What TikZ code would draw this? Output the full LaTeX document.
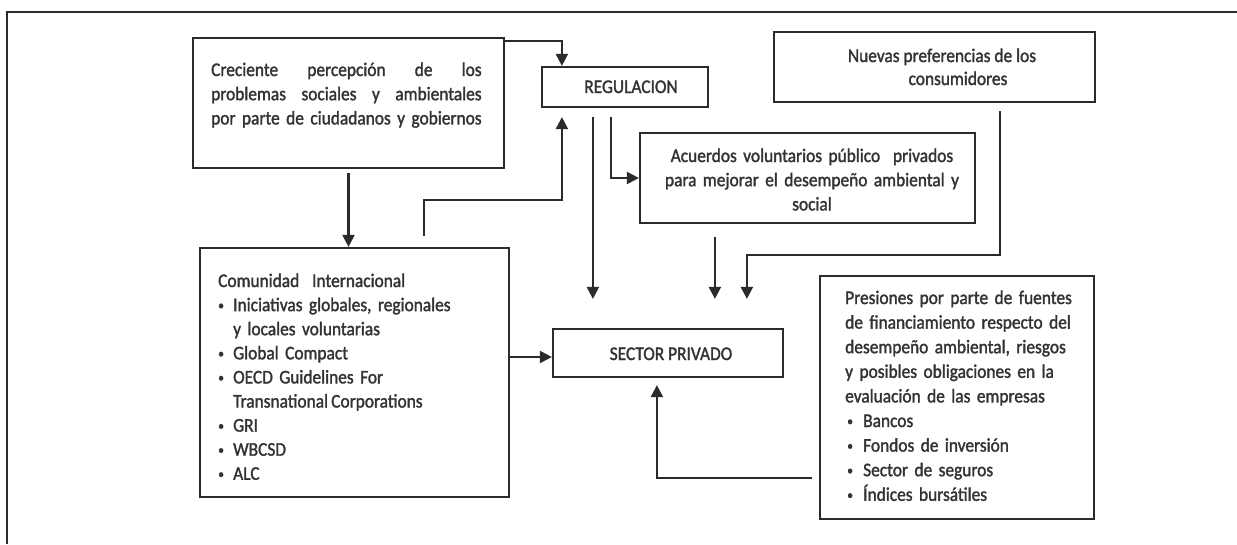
\documentclass[tikz,border=0pt]{standalone}
\usepackage{fontspec}
\setmainfont{Carlito}[FakeStretch=0.9,FakeBold=1.6]
\usetikzlibrary{arrows.meta,calc}
\definecolor{ink}{HTML}{2B2B2B}
\definecolor{tink}{HTML}{333333}
\newlength\lw
\tikzset{
  box/.style={draw=ink, line width=2.2pt, inner sep=0pt},
  txt/.style={text=tink, inner sep=0pt, font={\fontsize{19.3}{24.2}\selectfont}},
  arr/.style={draw=ink, line width=2.1pt, -{Triangle[length=12pt,width=12pt]}},
}
\newcommand{\bl}[1]{\makebox[#1][l]{\hspace{2pt}\raisebox{1.5pt}{\fontsize{13}{13}\selectfont\textbullet}}}
\begin{document}
\begin{tikzpicture}[x=1pt,y=-1pt]
\useasboundingbox (0,0) rectangle (1237,544);
% outer frame
\draw[ink, line width=1.5pt] (1237,12) -- (7,12) -- (7,544);
% boxes
\node[box, minimum width=311pt, minimum height=130pt] (b1) at (348.5,103) {};
\node[box, minimum width=166pt, minimum height=40pt] (reg) at (625,87) {};
\node[box, minimum width=321pt, minimum height=70pt] (nue) at (934.5,67) {};
\node[box, minimum width=335pt, minimum height=90pt] (acu) at (807.5,178) {};
\node[box, minimum width=309pt, minimum height=249pt] (com) at (354.5,372.5) {};
\node[box, minimum width=230pt, minimum height=48pt] (sec) at (668,353) {};
\node[box, minimum width=274pt, minimum height=243pt] (pre) at (957,397.5) {};
% texts
\node[txt, anchor=base west, text width=290pt, align=left] (t1) at (211,76)
 {\settowidth{\lw}{por parte de ciudadanos y gobiernos}%
  \makebox[\lw][l]{Creciente\hfill percepción\hfill de\hfill los}\\
  \makebox[\lw][l]{problemas\hfill sociales\hfill y\hfill ambientales}\\
  por parte de ciudadanos y gobiernos};
\node[txt, anchor=base] (treg) at (631,93) {REGULACION};
\node[txt, anchor=base] (tnue1) at (942,62) {Nuevas preferencias de los};
\node[txt, anchor=base] (tnue2) at (958,85) {consumidores};
\node[txt, anchor=base, text width=330pt, align=center] (tacu) at (812,162)
 {Acuerdos voluntarios público\ \ privados\\para mejorar el desempeño ambiental y\\social};
\node[txt, anchor=base west, text width=290pt, align=left, font={\fontsize{19.3}{24.1}\selectfont}] (tcom) at (216,287)
 {\hspace*{2pt}Comunidad\ \ Internacional\\
  \bl{17pt}Iniciativas globales, regionales\\
  \hspace*{17pt}y locales voluntarias\\
  \bl{17pt}Global Compact\\
  \bl{17pt}OECD Guidelines For\\
  \hspace*{17pt}Transnational\,Corporations\\
  \bl{17pt}GRI\\
  \bl{17pt}WBCSD\\
  \bl{17pt}ALC};
\node[txt, anchor=base] (tsec) at (671,360) {SECTOR PRIVADO};
\node[txt, anchor=base west, text width=260pt, align=left, font={\fontsize{19.3}{24.6}\selectfont}] (tpre) at (845,304)
 {Presiones por parte de fuentes\\
  de financiamiento respecto del\\
  desempeño ambiental, riesgos\\
  y posibles obligaciones en la\\
  evaluación de las empresas\\
  \bl{18pt}Bancos\\
  \bl{18pt}Fondos de inversión\\
  \bl{18pt}Sector de seguros\\
  \bl{18pt}Índices bursátiles};
% connectors
\draw[arr] ([yshift=-4pt]b1.north east) -| ([xshift=21pt]reg.north west);
\draw[arr] ([xshift=225pt,yshift=11pt]com.north west) |- ([xshift=21pt,yshift=-92pt]reg.south west) -- ([xshift=21pt,yshift=-9pt]reg.south west);
\draw[arr] ([yshift=-4pt]b1.south) -- (b1.south |- com.north);
\coordinate (s4) at ([yshift=-4pt]sec.west);
\draw[arr] (com.east |- s4) -- (s4);
\draw[arr] ([xshift=52pt,yshift=-9pt]reg.south west) -- ([xshift=41pt,yshift=29pt]sec.north west);
\draw[arr] ([xshift=70pt,yshift=-9pt]reg.south west) |- (acu.west);
\draw[arr] ([xshift=76pt,yshift=-13pt]acu.south west) -- ([xshift=163pt,yshift=29pt]sec.north west);
\draw[arr] ([xshift=227pt,yshift=-8pt]nue.south west) |- ([xshift=195pt,yshift=73pt]sec.north west) -- ([xshift=195pt,yshift=29pt]sec.north west);
\draw[arr] ([xshift=-7pt,yshift=42pt]pre.south west) -| ([xshift=105pt,yshift=-7pt]sec.south west);
\end{tikzpicture}
\end{document}
